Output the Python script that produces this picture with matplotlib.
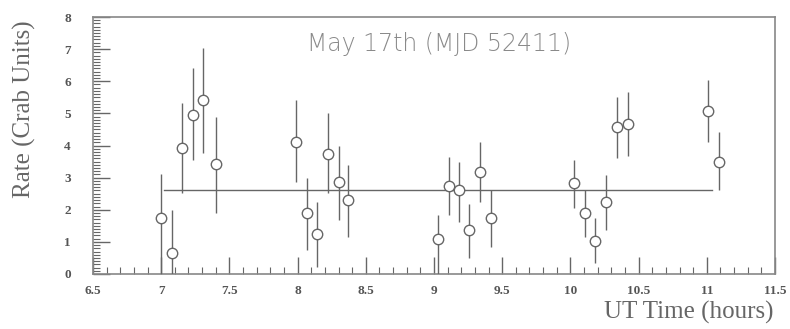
import numpy as np
import matplotlib.pyplot as plt
from matplotlib.ticker import MultipleLocator

# UT time (hours), rate (Crab units), lower / upper errors
t = [7.00, 7.08, 7.15, 7.23, 7.31, 7.40,
     7.99, 8.07, 8.14, 8.22, 8.30, 8.37,
     9.03, 9.11, 9.18, 9.26, 9.34, 9.42,
     10.03, 10.11, 10.18, 10.26, 10.34, 10.42,
     11.01, 11.09]
rate = [1.74, 0.65, 3.92, 4.95, 5.42, 3.42,
        4.12, 1.89, 1.24, 3.74, 2.85, 2.29,
        1.08, 2.74, 2.60, 1.37, 3.18, 1.74,
        2.82, 1.90, 1.03, 2.25, 4.59, 4.66,
        5.06, 3.48]
err_lo = [1.74, 0.65, 1.39, 1.40, 1.65, 1.52,
          1.25, 1.14, 1.01, 1.21, 1.17, 1.13,
          1.08, 0.90, 0.97, 0.87, 0.93, 0.89,
          0.77, 0.76, 0.69, 0.88, 0.99, 1.00,
          0.94, 0.86]
err_hi = [1.36, 1.35, 1.41, 1.45, 1.62, 1.48,
          1.30, 1.11, 1.01, 1.26, 1.15, 1.11,
          0.76, 0.91, 0.90, 0.81, 0.94, 0.88,
          0.73, 0.72, 0.71, 0.83, 0.93, 0.99,
          0.99, 0.95]
mean_rate = 2.62
fit_range = [7.02, 11.04]
xlabels = ['6.5', '7', '7.5', '8', '8.5', '9', '9.5', '10', '10.5', '11', '11.5']

col = '#666666'
plt.rcParams['font.family'] = 'DejaVu Sans'

fig = plt.figure(figsize=(7.9, 3.29), dpi=100)
ax = fig.add_axes([93/790, 55/329, 682/790, 257/329])

ax.errorbar(t, rate, yerr=[err_lo, err_hi], fmt='o', mfc='white', mec=col,
            ecolor=col, ms=7.5, mew=1.0, elinewidth=1.0, capsize=0, zorder=3)
ax.plot(fit_range, [mean_rate, mean_rate], color=col, lw=1.0, zorder=2)

ax.set_xlim(6.5, 11.5)
ax.set_ylim(0, 8)
ax.set_xticks(np.arange(6.5, 11.51, 0.5))
ax.set_xticklabels(xlabels)
ax.xaxis.set_minor_locator(MultipleLocator(0.1))
ax.yaxis.set_major_locator(MultipleLocator(1))
ax.yaxis.set_minor_locator(MultipleLocator(0.1))
ax.tick_params(which='major', direction='in', length=12, color=col, width=1,
               labelsize=9.5, labelcolor='#555555')
ax.tick_params(axis='x', which='major', pad=8)
ax.tick_params(axis='y', which='major', pad=16)
ax.tick_params(which='minor', direction='in', length=5, color=col, width=0.8)
for lab in ax.get_xticklabels() + ax.get_yticklabels():
    lab.set_family('Liberation Serif')
    lab.set_fontweight('bold')
for s in ax.spines.values():
    s.set_color('#888888')
    s.set_linewidth(1.2)

ax.text(0.507, 0.895, 'May 17th (MJD 52411)', transform=ax.transAxes,
        ha='center', va='center', fontsize=17, color='#8a8a8a',
        fontweight='light')

fig.text(24/790, 1 - 109/329, 'Rate (Crab Units)', rotation=90, ha='center',
         va='center', fontsize=18, color='#666666', family='Liberation Serif')
fig.text(773/790, 1 - 312/329, 'UT Time (hours)', ha='right', va='center',
         fontsize=18, color='#666666', family='Liberation Serif')

fig.savefig('out.png', dpi=100)
